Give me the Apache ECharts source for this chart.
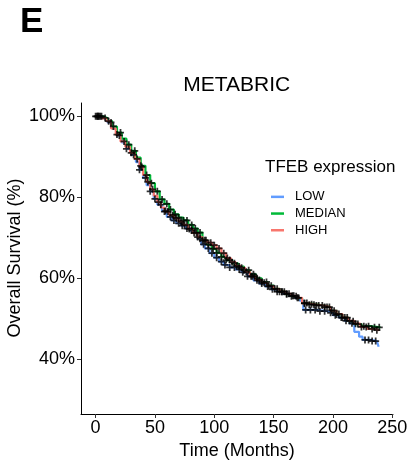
<!DOCTYPE html>
<html>
<head>
<meta charset="utf-8">
<script src="https://cdn.jsdelivr.net/npm/echarts@6/dist/echarts.min.js"></script>
<style>html,body{margin:0;padding:0;background:#fff}#chart{width:420px;height:462px}</style>
</head>
<body>
<div id="chart"></div>
<script>
// ---- Data (Kaplan-Meier steps: [month, survival %]) ----
const groupNames = ['LOW', 'MEDIAN', 'HIGH'];
const xTicks = [0, 50, 100, 150, 200, 250];
const yTicks = [40, 60, 80, 100];

const lowCurve = [[0,100],[6,99.5],[10,98.5],[14,97],[18,95.3],[22,93.6],[26,92],[30,90.5],[34,88.7],[37,86.8],[40,84.8],[43,83],[46,81.5],[49,79.6],[52,78.2],[56,76.6],[60,75.2],[64,74.3],[68,73.6],[72,73],[76,72.3],[80,71.8],[83,71.2],[86,69.8],[89,68.4],[92,67.4],[96,66.2],[100,65.1],[104,64.1],[108,63.3],[113,62.7],[118,62.2],[123,61.5],[128,60.5],[133,59.5],[138,58.7],[143,58],[148,57.3],[153,56.7],[158,56.2],[163,55.7],[168,55.2],[172,54.5],[175,52.2],[186,51.9],[195,51.5],[200,50.9],[205,50.3],[210,49.5],[214,48.9],[218,46.8],[222,45.6],[225,44.8],[232,44.5],[237,44.3],[238.5,43.1]];
const medianCurve = [[0,100],[6,99.6],[10,98.8],[14,97.5],[18,96],[22,94.5],[26,93],[30,91.5],[34,89.8],[38,87.8],[42,85.5],[46,83.5],[50,81.5],[54,79.5],[58,78.4],[62,77],[66,75.8],[70,75],[74,74.3],[78,73.2],[82,72.3],[86,71.3],[90,69.4],[94,68.3],[98,67.3],[102,66.3],[106,65.3],[110,64.5],[115,63.7],[120,62.9],[125,62],[130,61],[135,60],[140,59.1],[145,58.2],[150,57.4],[155,56.7],[160,56.1],[165,55.6],[170,55.1],[174,53.9],[180,53.6],[186,53.3],[192,52.9],[198,52],[203,51.1],[208,50.3],[213,49.4],[218,48.7],[224,48.2],[231,47.9],[240,47.8]];
const highCurve = [[0,100],[5,99.5],[9,98.8],[13,97],[17,95.5],[21,93.8],[25,92.5],[29,91],[33,89.5],[37,87.5],[40,85.5],[43,83.8],[46,82],[49,80.4],[52,78.8],[55,77.5],[58,76.5],[62,75.6],[66,74.8],[70,74],[74,73.2],[78,72.2],[82,71.2],[86,70.2],[90,69.4],[94,68.8],[98,68.2],[102,67.4],[106,66.2],[110,65],[114,64],[118,63.1],[122,62.6],[126,61.6],[130,60.5],[135,59.6],[140,58.9],[145,58.1],[150,57.4],[155,56.7],[160,56.2],[165,55.7],[170,55.2],[174,53.8],[180,53.5],[186,53.3],[192,52.9],[198,52],[203,51.2],[208,50.3],[213,49.5],[218,48.8],[223,48],[229,47.5],[235,47.2],[239,47.2]];

// censoring times (months) for each group
const lowCensor = [2,5,13,20,26,32,37,42,46,50,55,59,63,66,70,73,77,81,85,88,91,95,98,102,106,109,113,117,121,124,128,132,136,140,145,149,153,157,161,166,170,177,181,185,189,193,198,202,207,211,216,227,230,233,236];
const medianCensor = [0,2,4,8,15,21,28,33,38,43,47,52,56,60,63,67,70,74,77,81,84,88,92,95,99,102,106,110,113,117,121,125,129,133,136,140,144,148,153,157,161,165,169,176,178,182,186,191,195,199,203,208,212,217,221,226,230,235,239];
const highCensor = [1,3,11,18,24,30,35,39,44,48,53,58,61,65,68,72,75,79,83,86,90,93,97,100,104,108,111,115,119,123,127,131,134,138,142,146,151,155,159,163,167,171,176,180,184,188,193,197,201,205,210,214,219,224,228,233,237];

const colors = {LOW: '#619CFF', MEDIAN: '#00BA38', HIGH: '#F8766D'};
const curves = {LOW: lowCurve, MEDIAN: medianCurve, HIGH: highCurve};
const censors = {LOW: lowCensor, MEDIAN: medianCensor, HIGH: highCensor};

// value of a KM step curve at time t (the mark sits on the curve)
function stepAt(curve, t) {
  let v = curve[0][1];
  for (const p of curve) { if (p[0] <= t) v = p[1]; }
  return v;
}

const FONT = 'Liberation Sans, Arial, Helvetica, sans-serif';
const plusPath = 'path://M-0.25,-1H0.25V-0.25H1V0.25H0.25V1H-0.25V0.25H-1V-0.25H-0.25Z';

const series = [];
groupNames.forEach(g => {
  series.push({
    name: g, type: 'line', step: 'end', showSymbol: false, symbol: 'none',
    data: curves[g], lineStyle: {width: 2.2, color: colors[g]}, itemStyle: {color: colors[g]},
    z: 2, animation: false
  });
});
groupNames.forEach(g => {
  series.push({
    name: g + ' censor', type: 'scatter', symbol: plusPath, symbolSize: 7,
    data: censors[g].map(t => [t, stepAt(curves[g], t)]),
    itemStyle: {color: '#000'}, z: 5, animation: false, silent: true
  });
});

const chart = echarts.init(document.getElementById('chart'), null, {renderer: 'canvas'});
chart.setOption({
  backgroundColor: '#fff',
  animation: false,
  textStyle: {fontFamily: FONT},
  grid: {left: 81, right: 27, top: 103, bottom: 48, containLabel: false, outerBoundsMode: 'none'},
  xAxis: {
    type: 'value', min: -12.3, max: 250.6,
    name: 'Time (Months)', nameLocation: 'middle', nameGap: 23,
    nameTextStyle: {fontSize: 18, color: '#000', fontFamily: FONT},
    axisLine: {show: true, onZero: false, lineStyle: {color: '#000', width: 1}},
    axisTick: {show: true, length: 4, customValues: xTicks, lineStyle: {color: '#333'}},
    axisLabel: {customValues: xTicks, fontSize: 18, color: '#000', margin: 5, fontFamily: FONT},
    splitLine: {show: false}
  },
  yAxis: {
    type: 'value', min: 26.5, max: 103.3,
    axisLine: {show: true, onZero: false, lineStyle: {color: '#000', width: 1}},
    axisTick: {show: true, length: 4, customValues: yTicks, lineStyle: {color: '#333'}},
    axisLabel: {customValues: yTicks, formatter: '{value}%', fontSize: 18, color: '#000', margin: 6, fontFamily: FONT},
    splitLine: {show: false}
  },
  legend: {
    data: groupNames, orient: 'vertical', left: 266, top: 183.5,
    icon: 'rect', itemWidth: 13, itemHeight: 2.5, itemGap: 0,
    textStyle: {fontSize: 13, color: '#000', fontFamily: FONT, lineHeight: 16.7, padding: [0, 0, 0, 6]},
    selectedMode: false
  },
  graphic: [
    {type: 'text', left: 20, top: 5, style: {text: 'E', font: 'bold 35px ' + FONT, fill: '#000'}},
    {type: 'text', x: 236.7, y: 85, style: {text: 'METABRIC', font: '21px ' + FONT, fill: '#000', textAlign: 'center', textVerticalAlign: 'middle'}},
    {type: 'text', x: 265, y: 167.5, style: {text: 'TFEB expression', font: '17px ' + FONT, fill: '#000', textAlign: 'left', textVerticalAlign: 'middle'}},
    {type: 'text', x: 15, y: 258, rotation: Math.PI / 2, style: {text: 'Overall Survival (%)', font: '18px ' + FONT, fill: '#000', textAlign: 'center', textVerticalAlign: 'middle'}}
  ],
  series: series
});
</script>
</body>
</html>
